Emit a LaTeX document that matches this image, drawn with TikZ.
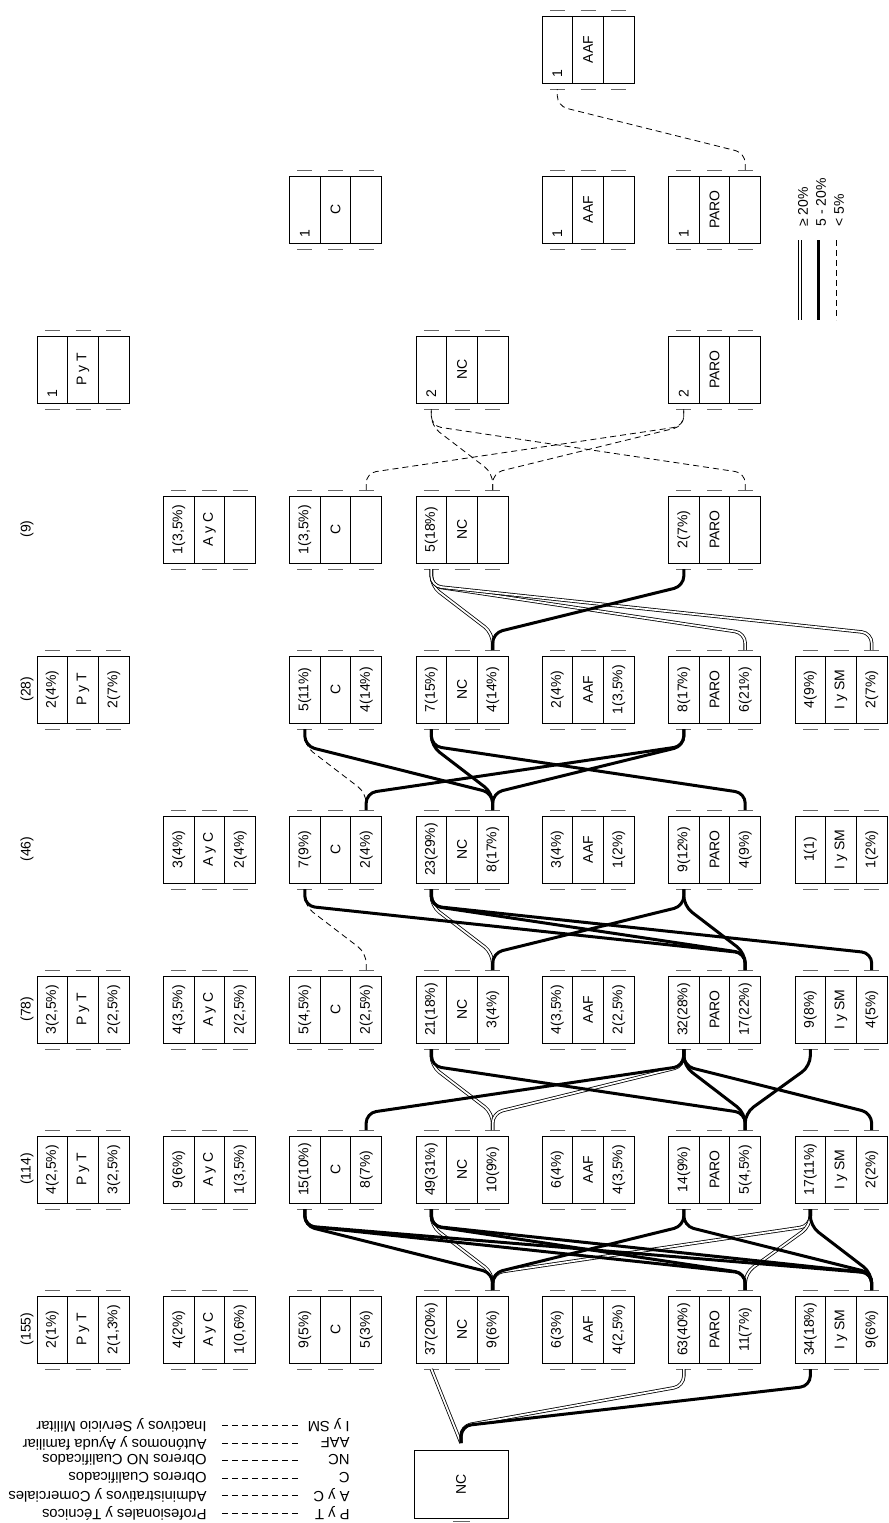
\documentclass[tikz,border=0pt]{standalone}
\usepackage{fontspec}
\setmainfont{Liberation Sans}
\usetikzlibrary{calc, positioning}

\tikzset{
  franja/.style={draw, line width=0.45pt, minimum width=15.33pt, minimum height=33.5pt,
    inner sep=0pt, outer xsep=0pt, outer ysep=3pt},
  texto/.style={rotate=90, inner sep=0pt, font=\fontsize{7}{8}\selectfont},
  leyenda/.style={rotate=180, inner sep=0pt, font=\fontsize{7.4}{8.5}\selectfont},
  marca/.style={line width=0.4pt, black!60},
  doble/.style={double, double distance=0.9pt, line width=0.4pt, rounded corners=5pt},
  gruesa/.style={line width=1.5pt, rounded corners=5pt},
  fina/.style={line width=0.4pt, dash pattern=on 3pt off 2pt, rounded corners=5pt},
}

% caja de tres franjas: generacion, categoria, x izq, y sup, entrada, nombre, salida
\newcommand{\caja}[7]{
  \node[franja] (#1#2i) at (#3+15.33,#4+33.5) {};
  \node[franja] (#1#2m) at (#3+46,#4+33.5) {};
  \node[franja] (#1#2o) at (#3+76.67,#4+33.5) {};
  \node[texto] at (#1#2i.center) {#5};
  \node[texto] at (#1#2m.center) {#6};
  \node[texto] at (#1#2o.center) {#7};
  \foreach \s in {i,m,o}{
    \draw[marca] ($(#1#2\s.north)+(-7.5,0)$) -- ++(15,0);
    \draw[marca] ($(#1#2\s.south)+(-7.5,0)$) -- ++(15,0);
  }
}
\newcommand{\flujo}[3]{\draw[#1] (#2.north) -- ++(0,-17) -- ($(#3.south)+(0,17)$) -- (#3.south);}

\begin{document}
\begin{tikzpicture}[x=0.5pt, y=-0.5pt]
\useasboundingbox (0,0) rectangle (889,1523);

% origen
\node[draw, line width=0.45pt, minimum width=47pt, minimum height=34pt, outer ysep=3.5pt] (raiz) at (461,1484) {};
\node[texto] at (raiz.center) {NC};
\draw[marca] (453,1521) -- (470,1521);

% generaciones
\foreach \cat/\xx/\ent/\lab/\sal in {PyT/37/{2(1\%)}/{P y T}/{2(1,3\%)}, AyC/163.5/{4(2\%)}/{A y C}/{1(0,6\%)},
    C/289.5/{9(5\%)}/C/{5(3\%)}, NC/416/{37(20\%)}/NC/{9(6\%)}, AAF/542/{6(3\%)}/AAF/{4(2,5\%)},
    PARO/668.5/{63(40\%)}/PARO/{11(7\%)}, ISM/795/{34(18\%)}/{I y SM}/{9(6\%)}}
  \caja{g1}{\cat}{\xx}{1296}{\ent}{\lab}{\sal};
\foreach \cat/\xx/\ent/\lab/\sal in {PyT/37/{4(2,5\%)}/{P y T}/{3(2,5\%)}, AyC/163.5/{9(6\%)}/{A y C}/{1(3,5\%)},
    C/289.5/{15(10\%)}/C/{8(7\%)}, NC/416/{49(31\%)}/NC/{10(9\%)}, AAF/542/{6(4\%)}/AAF/{4(3,5\%)},
    PARO/668.5/{14(9\%)}/PARO/{5(4,5\%)}, ISM/795/{17(11\%)}/{I y SM}/{2(2\%)}}
  \caja{g2}{\cat}{\xx}{1136}{\ent}{\lab}{\sal};
\foreach \cat/\xx/\ent/\lab/\sal in {PyT/37/{3(2,5\%)}/{P y T}/{2(2,5\%)}, AyC/163.5/{4(3,5\%)}/{A y C}/{2(2,5\%)},
    C/289.5/{5(4,5\%)}/C/{2(2,5\%)}, NC/416/{21(18\%)}/NC/{3(4\%)}, AAF/542/{4(3,5\%)}/AAF/{2(2,5\%)},
    PARO/668.5/{32(28\%)}/PARO/{17(22\%)}, ISM/795/{9(8\%)}/{I y SM}/{4(5\%)}}
  \caja{g3}{\cat}{\xx}{976}{\ent}{\lab}{\sal};
\foreach \cat/\xx/\ent/\lab/\sal in {AyC/163.5/{3(4\%)}/{A y C}/{2(4\%)},
    C/289.5/{7(9\%)}/C/{2(4\%)}, NC/416/{23(29\%)}/NC/{8(17\%)}, AAF/542/{3(4\%)}/AAF/{1(2\%)},
    PARO/668.5/{9(12\%)}/PARO/{4(9\%)}, ISM/795/{1(1)}/{I y SM}/{1(2\%)}}
  \caja{g4}{\cat}{\xx}{816}{\ent}{\lab}{\sal};
\foreach \cat/\xx/\ent/\lab/\sal in {PyT/37/{2(4\%)}/{P y T}/{2(7\%)},
    C/289.5/{5(11\%)}/C/{4(14\%)}, NC/416/{7(15\%)}/NC/{4(14\%)}, AAF/542/{2(4\%)}/AAF/{1(3,5\%)},
    PARO/668.5/{8(17\%)}/PARO/{6(21\%)}, ISM/795/{4(9\%)}/{I y SM}/{2(7\%)}}
  \caja{g5}{\cat}{\xx}{656}{\ent}{\lab}{\sal};
\foreach \cat/\xx/\ent/\lab in {AyC/163.5/{1(3,5\%)}/{A y C}, C/289.5/{1(3,5\%)}/C,
    NC/416/{5(18\%)}/NC, PARO/668.5/{2(7\%)}/PARO}
  \caja{g6}{\cat}{\xx}{496}{\ent}{\lab}{};
\foreach \g/\cat/\xx/\yy/\n/\lab in {g7/PyT/37/336/1/{P y T}, g7/NC/416/336/2/NC, g7/PARO/668.5/336/2/PARO,
    g8/C/289.5/176/1/C, g8/AAF/542/176/1/AAF, g8/PARO/668.5/176/1/PARO, g9/AAF/542/16/1/AAF}{
  \caja{\g}{\cat}{\xx}{\yy}{}{\lab}{}
  \node[texto] at ($(\g\cat i.center)+(0,24)$) {\n};
}

% totales
\foreach \yy/\t in {1329/{(155)}, 1169/{(114)}, 1009/{(78)}, 849/{(46)}, 689/{(28)}, 529/{(9)}}
  \node[texto] at (27,\yy) {\t};

% flujos
\draw[doble] (raiz.north) -- (g1NCi.south);
\foreach \a/\b in {raiz/g1PAROi, g1NCo/g2NCi, g1NCo/g2ISMi, g1PAROo/g2ISMi,
    g2NCo/g3NCi, g2NCo/g3PAROi, g3NCo/g4NCi, g5NCo/g6NCi, g5PAROo/g6NCi, g5ISMo/g6NCi}
  \flujo{doble}{\a}{\b};
\foreach \a/\b in {raiz/g1ISMi, g1NCo/g2Ci, g1NCo/g2PAROi, g1PAROo/g2Ci, g1PAROo/g2NCi,
    g1ISMo/g2Ci, g1ISMo/g2NCi, g1ISMo/g2PAROi, g1ISMo/g2ISMi,
    g2Co/g3PAROi, g2PAROo/g3NCi, g2PAROo/g3PAROi, g2ISMo/g3PAROi, g2PAROo/g3ISMi,
    g3NCo/g4PAROi, g3PAROo/g4Ci, g3PAROo/g4NCi, g3PAROo/g4PAROi, g3ISMo/g4NCi,
    g4Co/g5PAROi, g4NCo/g5Ci, g4NCo/g5NCi, g4NCo/g5PAROi, g4PAROo/g5NCi, g5NCo/g6PAROi}
  \flujo{gruesa}{\a}{\b};
\foreach \a/\b in {g3Co/g4Ci, g4Co/g5Ci, g6Co/g7PAROi, g6NCo/g7PAROi, g6NCo/g7NCi,
    g6PAROo/g7NCi, g8PAROo/g9AAFi}
  \flujo{fina}{\a}{\b};

% leyenda de trazos
\draw[doble] (800,240) -- (800,320);
\draw[gruesa] (818,240) -- (818,320);
\draw[fina] (836,240) -- (836,320);
\foreach \xx/\t in {803/{≥ 20\%}, 821/{5 - 20\%}, 839/{< 5\%}}
  \node[texto, anchor=west] at (\xx,227) {\t};

% leyenda de categorias
\foreach \yy/\ab/\nom in {1425/{I y SM}/{Inactivos y Servicio Militar}, 1443/AAF/{Autónomos y Ayuda familiar},
    1460/NC/{Obreros NO Cualificados}, 1478/C/{Obreros Cualificados},
    1495/{A y C}/{Administrativos y Comerciales}, 1513/{P y T}/{Profesionales y Técnicos}}{
  \node[leyenda, anchor=west] at (207,\yy) {\nom};
  \draw[line width=0.4pt, dash pattern=on 3pt off 2pt] (222,\yy) -- (300,\yy);
  \node[leyenda, anchor=west] at (350,\yy) {\ab};
}
\end{tikzpicture}
\end{document}
